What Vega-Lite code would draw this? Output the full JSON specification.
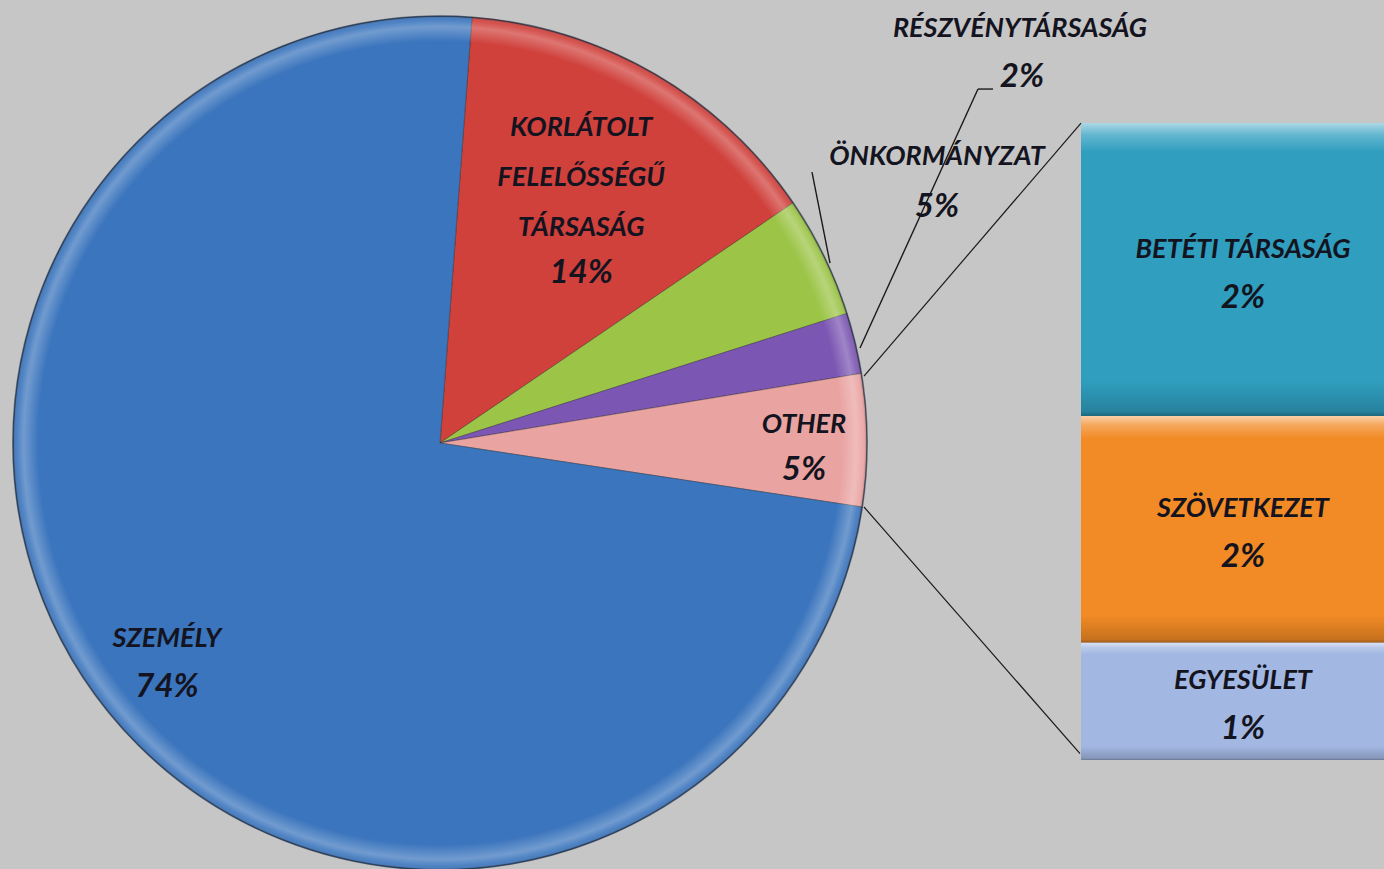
{
  "$schema": "https://vega.github.io/schema/vega-lite/v6.json",
  "width": 1384,
  "height": 869,
  "padding": 0,
  "autosize": {"type": "none"},
  "background": "#c6c6c6",
  "config": {
    "view": {"stroke": null},
    "text": {"font": "Lato", "fontStyle": "italic", "fontWeight": "bold", "fill": "#141420", "align": "center", "baseline": "middle"}
  },
  "datasets": {
    "pie": [
      {"name": "Korlátolt Felelősségű Társaság", "share": 0.143, "order": 1},
      {"name": "Önkormányzat", "share": 0.046, "order": 2},
      {"name": "Részvénytársaság", "share": 0.023, "order": 3},
      {"name": "Other", "share": 0.05, "order": 4},
      {"name": "Személy", "share": 0.738, "order": 5}
    ],
    "bar": [
      {"name": "Betéti Társaság", "share": 0.023, "order": 3},
      {"name": "Szövetkezet", "share": 0.0178, "order": 2},
      {"name": "Egyesület", "share": 0.0092, "order": 1}
    ]
  },
  "layer": [
    {
      "data": {"name": "pie"},
      "transform": [{"stack": "share", "groupby": [], "sort": [{"field": "order"}], "as": ["c0", "c1"]}],
      "mark": {"type": "arc", "outerRadius": 427, "stroke": "#222222", "strokeOpacity": 0.35, "strokeWidth": 1},
      "encoding": {
        "theta": {"field": "c0", "type": "quantitative", "stack": null, "scale": {"domain": [0, 1], "range": [0.075, 6.3582]}},
        "theta2": {"field": "c1"},
        "color": {"field": "name", "type": "nominal", "legend": null, "scale": {
          "domain": ["Korlátolt Felelősségű Társaság", "Önkormányzat", "Részvénytársaság", "Other", "Személy", "Betéti Társaság", "Szövetkezet", "Egyesület"],
          "range": ["#d0413c", "#9cc447", "#7b56b2", "#e9a3a1", "#3b75bd", "#2f9ebf", "#f28a25", "#a2b7e2"]}},
        "x": {"datum": 4.40, "type": "quantitative", "scale": {"domain": [0, 13.84], "nice": false, "zero": false}, "axis": null},
        "y": {"datum": 0.024882, "type": "quantitative", "scale": {"domain": [-0.00856, 0.05966], "nice": false, "zero": false}, "axis": null}
      }
    },
    {
      "data": {"name": "pie"},
      "transform": [{"aggregate": [{"op": "sum", "field": "share", "as": "total"}]}],
      "mark": {"type": "arc", "outerRadius": 427, "theta": 0, "theta2": 6.2832, "stroke": "#1a2a44", "strokeOpacity": 0.55, "strokeWidth": 1.5,
        "fill": {"gradient": "radial", "x1": 0.5, "y1": 0.5, "r1": 0, "x2": 0.5, "y2": 0.5, "r2": 0.5, "stops": [
          {"offset": 0, "color": "rgba(255,255,255,0)"},
          {"offset": 0.94, "color": "rgba(255,255,255,0)"},
          {"offset": 0.975, "color": "rgba(255,255,255,0.28)"},
          {"offset": 0.992, "color": "rgba(255,255,255,0.08)"},
          {"offset": 1, "color": "rgba(0,0,0,0.35)"}]}},
      "encoding": {
        "x": {"datum": 4.40, "type": "quantitative", "scale": {"domain": [0, 13.84], "nice": false, "zero": false}, "axis": null},
        "y": {"datum": 0.024882, "type": "quantitative", "scale": {"domain": [-0.00856, 0.05966], "nice": false, "zero": false}, "axis": null}
      }
    },
    {
      "data": {"name": "bar"},
      "transform": [{"stack": "share", "groupby": [], "sort": [{"field": "order"}], "as": ["v0", "v1"]}],
      "mark": {"type": "rect", "clip": true},
      "encoding": {
        "x": {"datum": 10.81, "type": "quantitative", "scale": {"domain": [0, 13.84], "nice": false, "zero": false}, "axis": null},
        "x2": {"datum": 14.10},
        "y": {"field": "v0", "type": "quantitative", "stack": null, "scale": {"domain": [-0.00856, 0.05966], "nice": false, "zero": false}, "axis": null},
        "y2": {"field": "v1"},
        "color": {"field": "name", "type": "nominal", "legend": null}
      }
    },
    {
      "data": {"name": "bar"},
      "transform": [{"stack": "share", "groupby": [], "sort": [{"field": "order"}], "as": ["v0", "v1"]}],
      "mark": {"type": "rect", "clip": true,
        "fill": {"gradient": "linear", "x1": 0, "y1": 0, "x2": 0, "y2": 1, "stops": [
          {"offset": 0, "color": "rgba(255,255,255,0.6)"},
          {"offset": 0.04, "color": "rgba(255,255,255,0.25)"},
          {"offset": 0.1, "color": "rgba(255,255,255,0)"},
          {"offset": 0.88, "color": "rgba(0,0,0,0)"},
          {"offset": 0.985, "color": "rgba(0,0,0,0.18)"},
          {"offset": 1, "color": "rgba(0,0,0,0.35)"}]}},
      "encoding": {
        "x": {"datum": 10.81, "type": "quantitative", "scale": {"domain": [0, 13.84], "nice": false, "zero": false}, "axis": null},
        "x2": {"datum": 14.10},
        "y": {"field": "v0", "type": "quantitative", "stack": null, "scale": {"domain": [-0.00856, 0.05966], "nice": false, "zero": false}, "axis": null},
        "y2": {"field": "v1"}
      }
    },
    {
      "data": {"name": "pie"},
      "transform": [{"filter": "datum.name === 'Other'"}],
      "mark": {"type": "rule", "color": "#1a1a1a", "strokeWidth": 1.2},
      "encoding": {
        "x": {"datum": 8.64, "type": "quantitative", "scale": {"domain": [0, 13.84], "nice": false, "zero": false}, "axis": null},
        "y": {"datum": 0.030141, "type": "quantitative", "scale": {"domain": [-0.00856, 0.05966], "nice": false, "zero": false}, "axis": null},
        "x2": {"datum": 10.81},
        "y2": {"datum": 0.05}
      }
    },
    {
      "data": {"name": "pie"},
      "transform": [{"filter": "datum.name === 'Other'"}],
      "mark": {"type": "rule", "color": "#1a1a1a", "strokeWidth": 1.2},
      "encoding": {
        "x": {"datum": 8.64, "type": "quantitative", "scale": {"domain": [0, 13.84], "nice": false, "zero": false}, "axis": null},
        "y": {"datum": 0.019859, "type": "quantitative", "scale": {"domain": [-0.00856, 0.05966], "nice": false, "zero": false}, "axis": null},
        "x2": {"datum": 10.80},
        "y2": {"datum": 0.0005}
      }
    },
    {
      "data": {"name": "pie"},
      "transform": [{"filter": "datum.name === 'Önkormányzat'"}],
      "mark": {"type": "rule", "color": "#1a1a1a", "strokeWidth": 1.4},
      "encoding": {
        "x": {"datum": 8.30, "type": "quantitative", "scale": {"domain": [0, 13.84], "nice": false, "zero": false}, "axis": null},
        "y": {"datum": 0.039011, "type": "quantitative", "scale": {"domain": [-0.00856, 0.05966], "nice": false, "zero": false}, "axis": null},
        "x2": {"datum": 8.12},
        "y2": {"datum": 0.046154}
      }
    },
    {
      "data": {"name": "pie"},
      "transform": [{"filter": "datum.name === 'Részvénytársaság'"}],
      "mark": {"type": "rule", "color": "#1a1a1a", "strokeWidth": 1.4},
      "encoding": {
        "x": {"datum": 8.60, "type": "quantitative", "scale": {"domain": [0, 13.84], "nice": false, "zero": false}, "axis": null},
        "y": {"datum": 0.032339, "type": "quantitative", "scale": {"domain": [-0.00856, 0.05966], "nice": false, "zero": false}, "axis": null},
        "x2": {"datum": 9.78},
        "y2": {"datum": 0.052669}
      }
    },
    {
      "data": {"name": "pie"},
      "transform": [{"filter": "datum.name === 'Részvénytársaság'"}],
      "mark": {"type": "rule", "color": "#1a1a1a", "strokeWidth": 1.4},
      "encoding": {
        "x": {"datum": 9.78, "type": "quantitative", "scale": {"domain": [0, 13.84], "nice": false, "zero": false}, "axis": null},
        "y": {"datum": 0.052669, "type": "quantitative", "scale": {"domain": [-0.00856, 0.05966], "nice": false, "zero": false}, "axis": null},
        "x2": {"datum": 9.93},
        "y2": {"datum": 0.052669}
      }
    },
    {
      "data": {"name": "pie"},
      "transform": [
        {"stack": "share", "groupby": [], "sort": [{"field": "order"}], "as": ["c0", "c1"]},
        {"calculate": "(datum.c0 + datum.c1) / 2", "as": "mid"},
        {"calculate": "upper(datum.name)", "as": "label"},
        {"filter": "datum.name === 'Korlátolt Felelősségű Társaság'"}
      ],
      "mark": {"type": "text", "radius": 282, "dy": -71, "fontSize": 27, "lineBreak": " ", "lineHeight": 50},
      "encoding": {
        "theta": {"field": "mid", "type": "quantitative", "stack": null, "scale": {"domain": [0, 1], "range": [0.075, 6.3582]}},
        "x": {"datum": 4.40, "type": "quantitative", "scale": {"domain": [0, 13.84], "nice": false, "zero": false}, "axis": null},
        "y": {"datum": 0.024882, "type": "quantitative", "scale": {"domain": [-0.00856, 0.05966], "nice": false, "zero": false}, "axis": null},
        "text": {"field": "label"}
      }
    },
    {
      "data": {"name": "pie"},
      "transform": [
        {"stack": "share", "groupby": [], "sort": [{"field": "order"}], "as": ["c0", "c1"]},
        {"calculate": "(datum.c0 + datum.c1) / 2", "as": "mid"},
        {"filter": "datum.name === 'Korlátolt Felelősségű Társaság'"}
      ],
      "mark": {"type": "text", "radius": 282, "dy": 74, "fontSize": 33},
      "encoding": {
        "theta": {"field": "mid", "type": "quantitative", "stack": null, "scale": {"domain": [0, 1], "range": [0.075, 6.3582]}},
        "x": {"datum": 4.40, "type": "quantitative", "scale": {"domain": [0, 13.84], "nice": false, "zero": false}, "axis": null},
        "y": {"datum": 0.024882, "type": "quantitative", "scale": {"domain": [-0.00856, 0.05966], "nice": false, "zero": false}, "axis": null},
        "text": {"field": "share", "format": ".0%"}
      }
    },
    {
      "data": {"name": "pie"},
      "transform": [
        {"stack": "share", "groupby": [], "sort": [{"field": "order"}], "as": ["c0", "c1"]},
        {"calculate": "(datum.c0 + datum.c1) / 2", "as": "mid"},
        {"calculate": "upper(datum.name)", "as": "label"},
        {"filter": "datum.name === 'Other'"}
      ],
      "mark": {"type": "text", "radius": 364, "dy": -16, "fontSize": 27},
      "encoding": {
        "theta": {"field": "mid", "type": "quantitative", "stack": null, "scale": {"domain": [0, 1], "range": [0.075, 6.3582]}},
        "x": {"datum": 4.40, "type": "quantitative", "scale": {"domain": [0, 13.84], "nice": false, "zero": false}, "axis": null},
        "y": {"datum": 0.024882, "type": "quantitative", "scale": {"domain": [-0.00856, 0.05966], "nice": false, "zero": false}, "axis": null},
        "text": {"field": "label"}
      }
    },
    {
      "data": {"name": "pie"},
      "transform": [
        {"stack": "share", "groupby": [], "sort": [{"field": "order"}], "as": ["c0", "c1"]},
        {"calculate": "(datum.c0 + datum.c1) / 2", "as": "mid"},
        {"filter": "datum.name === 'Other'"}
      ],
      "mark": {"type": "text", "radius": 364, "dy": 29, "fontSize": 33},
      "encoding": {
        "theta": {"field": "mid", "type": "quantitative", "stack": null, "scale": {"domain": [0, 1], "range": [0.075, 6.3582]}},
        "x": {"datum": 4.40, "type": "quantitative", "scale": {"domain": [0, 13.84], "nice": false, "zero": false}, "axis": null},
        "y": {"datum": 0.024882, "type": "quantitative", "scale": {"domain": [-0.00856, 0.05966], "nice": false, "zero": false}, "axis": null},
        "text": {"field": "share", "format": ".0%"}
      }
    },
    {
      "data": {"name": "pie"},
      "transform": [
        {"stack": "share", "groupby": [], "sort": [{"field": "order"}], "as": ["c0", "c1"]},
        {"calculate": "(datum.c0 + datum.c1) / 2", "as": "mid"},
        {"calculate": "upper(datum.name)", "as": "label"},
        {"filter": "datum.name === 'Személy'"}
      ],
      "mark": {"type": "text", "radius": 349, "dy": -21, "fontSize": 27},
      "encoding": {
        "theta": {"field": "mid", "type": "quantitative", "stack": null, "scale": {"domain": [0, 1], "range": [0.075, 6.3582]}},
        "x": {"datum": 4.40, "type": "quantitative", "scale": {"domain": [0, 13.84], "nice": false, "zero": false}, "axis": null},
        "y": {"datum": 0.024882, "type": "quantitative", "scale": {"domain": [-0.00856, 0.05966], "nice": false, "zero": false}, "axis": null},
        "text": {"field": "label"}
      }
    },
    {
      "data": {"name": "pie"},
      "transform": [
        {"stack": "share", "groupby": [], "sort": [{"field": "order"}], "as": ["c0", "c1"]},
        {"calculate": "(datum.c0 + datum.c1) / 2", "as": "mid"},
        {"filter": "datum.name === 'Személy'"}
      ],
      "mark": {"type": "text", "radius": 349, "dy": 27, "fontSize": 33},
      "encoding": {
        "theta": {"field": "mid", "type": "quantitative", "stack": null, "scale": {"domain": [0, 1], "range": [0.075, 6.3582]}},
        "x": {"datum": 4.40, "type": "quantitative", "scale": {"domain": [0, 13.84], "nice": false, "zero": false}, "axis": null},
        "y": {"datum": 0.024882, "type": "quantitative", "scale": {"domain": [-0.00856, 0.05966], "nice": false, "zero": false}, "axis": null},
        "text": {"field": "share", "format": ".0%"}
      }
    },
    {
      "data": {"name": "pie"},
      "transform": [
        {"calculate": "upper(datum.name)", "as": "label"},
        {"filter": "datum.name === 'Önkormányzat'"}
      ],
      "mark": {"type": "text", "fontSize": 27},
      "encoding": {
        "x": {"datum": 9.37, "type": "quantitative", "scale": {"domain": [0, 13.84], "nice": false, "zero": false}, "axis": null},
        "y": {"datum": 0.047331, "type": "quantitative", "scale": {"domain": [-0.00856, 0.05966], "nice": false, "zero": false}, "axis": null},
        "text": {"field": "label"}
      }
    },
    {
      "data": {"name": "pie"},
      "transform": [{"filter": "datum.name === 'Önkormányzat'"}],
      "mark": {"type": "text", "fontSize": 33},
      "encoding": {
        "x": {"datum": 9.37, "type": "quantitative", "scale": {"domain": [0, 13.84], "nice": false, "zero": false}, "axis": null},
        "y": {"datum": 0.043407, "type": "quantitative", "scale": {"domain": [-0.00856, 0.05966], "nice": false, "zero": false}, "axis": null},
        "text": {"field": "share", "format": ".0%"}
      }
    },
    {
      "data": {"name": "pie"},
      "transform": [
        {"calculate": "upper(datum.name)", "as": "label"},
        {"filter": "datum.name === 'Részvénytársaság'"}
      ],
      "mark": {"type": "text", "fontSize": 27},
      "encoding": {
        "x": {"datum": 10.20, "type": "quantitative", "scale": {"domain": [0, 13.84], "nice": false, "zero": false}, "axis": null},
        "y": {"datum": 0.057378, "type": "quantitative", "scale": {"domain": [-0.00856, 0.05966], "nice": false, "zero": false}, "axis": null},
        "text": {"field": "label"}
      }
    },
    {
      "data": {"name": "pie"},
      "transform": [{"filter": "datum.name === 'Részvénytársaság'"}],
      "mark": {"type": "text", "fontSize": 33},
      "encoding": {
        "x": {"datum": 10.22, "type": "quantitative", "scale": {"domain": [0, 13.84], "nice": false, "zero": false}, "axis": null},
        "y": {"datum": 0.053611, "type": "quantitative", "scale": {"domain": [-0.00856, 0.05966], "nice": false, "zero": false}, "axis": null},
        "text": {"field": "share", "format": ".0%"}
      }
    },
    {
      "data": {"name": "bar"},
      "transform": [
        {"stack": "share", "groupby": [], "sort": [{"field": "order"}], "as": ["v0", "v1"]},
        {"calculate": "(datum.v0 + datum.v1) / 2", "as": "mid"},
        {"calculate": "upper(datum.name)", "as": "label"}
      ],
      "mark": {"type": "text", "dy": -20, "fontSize": 27},
      "encoding": {
        "x": {"datum": 12.43, "type": "quantitative", "scale": {"domain": [0, 13.84], "nice": false, "zero": false}, "axis": null},
        "y": {"field": "mid", "type": "quantitative", "stack": null, "scale": {"domain": [-0.00856, 0.05966], "nice": false, "zero": false}, "axis": null},
        "text": {"field": "label"}
      }
    },
    {
      "data": {"name": "bar"},
      "transform": [
        {"stack": "share", "groupby": [], "sort": [{"field": "order"}], "as": ["v0", "v1"]},
        {"calculate": "(datum.v0 + datum.v1) / 2", "as": "mid"}
      ],
      "mark": {"type": "text", "dy": 28, "fontSize": 33},
      "encoding": {
        "x": {"datum": 12.43, "type": "quantitative", "scale": {"domain": [0, 13.84], "nice": false, "zero": false}, "axis": null},
        "y": {"field": "mid", "type": "quantitative", "stack": null, "scale": {"domain": [-0.00856, 0.05966], "nice": false, "zero": false}, "axis": null},
        "text": {"field": "share", "format": ".0%"}
      }
    }
  ]
}
